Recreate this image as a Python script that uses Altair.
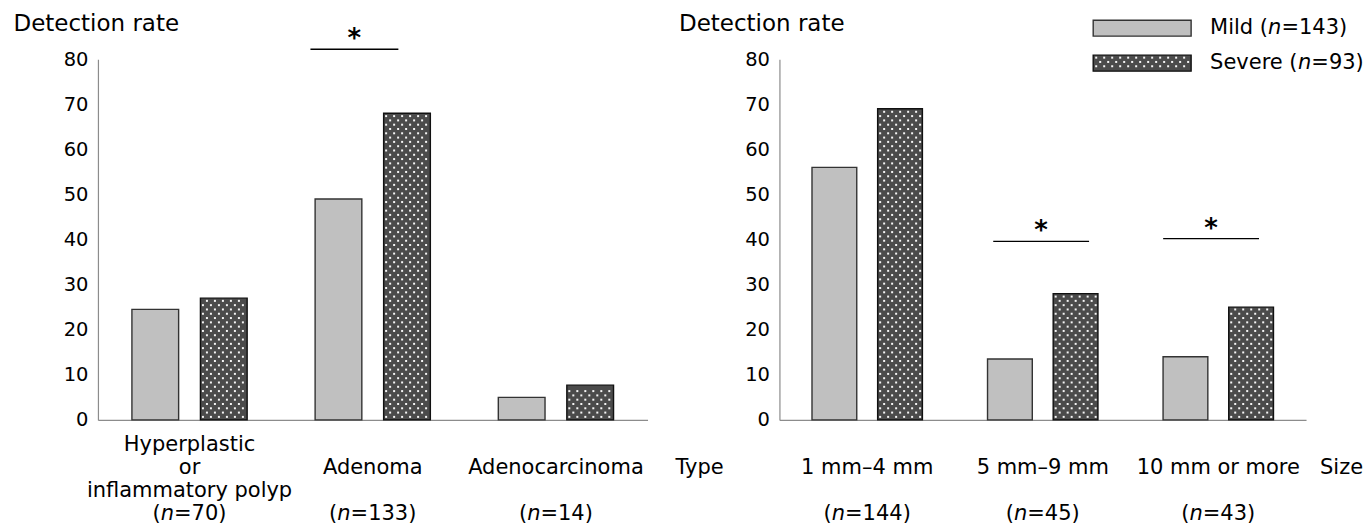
import altair as alt
import pandas as pd

FONT = "DejaVu Sans"
GRAY = "#8c8c8c"

# ---------------- data ----------------
type_categories = ["Hyperplastic\nor\ninflammatory polyp", "Adenoma", "Adenocarcinoma"]
type_n = ["70", "133", "14"]
type_mild = [24.5, 49, 5]
type_severe = [27, 68, 7.7]

size_categories = ["1 mm–4 mm", "5 mm–9 mm", "10 mm or more"]
size_n = ["144", "45", "43"]
size_mild = [56, 13.5, 14]
size_severe = [69, 28, 25]

# significance brackets: (x start, x end, y) in group / rate units
type_sig = [(1.16, 1.64, 82.2)]
size_sig = [(1.218, 1.764, 39.6), (2.186, 2.732, 40.2)]

groups = ["Mild", "Severe"]
legend_prefix = ["Mild (", "Severe ("]
legend_n = ["143", "93"]

# ---------------- style ----------------
H = 361
BW = 0.255   # bar width in group units
OFF = 0.187  # bar centre offset from group centre
LAB_FS = 21
TICK_FS = 19.5
TITLE_FS = 23
LEG_FS = 21
LINE_H = 23
ROW1 = 48    # px below axis of the category label centre
ROWN = 94    # px below axis of the (n=..) row
FILL = {"Mild": "#c0c0c0", "Severe": "#4b4b4b"}
STROKE = {"Mild": "#333333", "Severe": "#111111"}

# DejaVu Sans advance widths (em)
ADV = {" ": 0.318, "(": 0.390, ")": 0.390, "=": 0.838, "n": 0.634, "M": 0.863,
       "i": 0.278, "l": 0.278, "d": 0.635, "S": 0.635, "e": 0.615, "v": 0.592,
       "r": 0.411}
for _d in "0123456789":
    ADV[_d] = 0.636


def tw(s, fs):
    return sum(ADV.get(c, 0.6) for c in s) * fs


def panel(cats, ns, mild, severe, sig, width, title_x, end_label, end_dx, legend):
    ppg = width / 3.0          # pixels per group unit
    ppu = H / 80.0             # pixels per rate unit

    def fx(px):
        return px / ppg

    def fy(py):  # pixel offset from plot top -> rate units
        return 80 - py / ppu

    def below(py):  # pixel offset below the x axis -> rate units
        return -py / ppu

    xs = alt.Scale(domain=[0, 3], nice=False, zero=False)
    ys = alt.Scale(domain=[0, 80], nice=False)

    rows = []
    for i in range(3):
        for g, v, sgn in (("Mild", mild[i], -1), ("Severe", severe[i], 1)):
            c = i + 0.5 + sgn * OFF
            rows.append(dict(grp=g, x0=c - BW / 2, x1=c + BW / 2, v=v))
    bdf = pd.DataFrame(rows)

    fill_scale = alt.Scale(domain=groups, range=[FILL[g] for g in groups])
    stroke_scale = alt.Scale(domain=groups, range=[STROKE[g] for g in groups])

    bars = alt.Chart(bdf).mark_rect(strokeWidth=1.4).encode(
        x=alt.X("x0:Q", scale=xs, axis=alt.Axis(labels=False, ticks=False, grid=False,
                                                title=None, domainColor=GRAY, domainWidth=1.2)),
        x2="x1:Q",
        y=alt.Y("v:Q", scale=ys, axis=alt.Axis(
            title="Detection rate", titleAngle=0, titleAlign="left", titleBaseline="alphabetic",
            titleX=title_x, titleY=-29, titleFont=FONT, titleFontSize=TITLE_FS,
            titleFontWeight="normal", titleColor="black", labelFont=FONT,
            labelFontSize=TICK_FS, labelColor="black", labelPadding=10, ticks=False,
            tickSize=0, grid=False, domainColor=GRAY, domainWidth=1.2,
            values=list(range(0, 81, 10)))),
        y2=alt.datum(0),
        fill=alt.Fill("grp:N", scale=fill_scale, legend=None),
        stroke=alt.Stroke("grp:N", scale=stroke_scale, legend=None),
    )

    # dotted texture on the severe bars
    dx_u = 8.0 / ppg
    dy_u = 4.3 / ppu
    dots = []
    for i, s in enumerate(severe):
        left = i + 0.5 + OFF - BW / 2
        right = i + 0.5 + OFF + BW / 2
        y = dy_u * 0.7
        r = 0
        while y < s - 0.4 * dy_u:
            x = left + fx(2.5) + (dx_u / 2 if r % 2 else 0)
            while x < right - fx(2):
                dots.append(dict(x=x, y=y))
                x += dx_u
            y += dy_u
            r += 1
    ddf = pd.DataFrame(dots)
    dot_layer = alt.Chart(ddf).mark_square(size=4, color="white", opacity=0.95).encode(
        x=alt.X("x:Q", scale=xs), y=alt.Y("y:Q", scale=ys))

    # category labels (multi-line blocks centred on the label row)
    ldf = pd.DataFrame({
        "x": [i + 0.5 for i in range(3)],
        "label": cats,
        "y": [below(ROW1 - (c.count("\n")) * LINE_H / 2) for c in cats],
    })
    cat_text = alt.Chart(ldf).mark_text(font=FONT, fontSize=LAB_FS, baseline="middle",
                                        lineBreak="\n", lineHeight=LINE_H,
                                        color="black").encode(
        x=alt.X("x:Q", scale=xs), y=alt.Y("y:Q", scale=ys), text="label:N")

    # (n=..) row with italic n
    nrows = []
    for i, n in enumerate(ns):
        rest = "=" + n + ")"
        total = tw("(", LAB_FS) + tw("n", LAB_FS) + tw(rest, LAB_FS)
        start = -total / 2
        nrows.append(dict(xp=i + 0.5 + fx(start),
                          xn=i + 0.5 + fx(start + tw("(", LAB_FS)),
                          xr=i + 0.5 + fx(start + tw("(", LAB_FS) + tw("n", LAB_FS)),
                          rest=rest))
    ndf = pd.DataFrame(nrows)
    nbase = alt.Chart(ndf)
    n_p = nbase.mark_text(font=FONT, fontSize=LAB_FS, align="left", baseline="middle",
                          dy=ROWN, color="black").encode(
        x=alt.X("xp:Q", scale=xs), y=alt.datum(0), text=alt.value("("))
    n_n = nbase.mark_text(font=FONT, fontSize=LAB_FS, fontStyle="italic", align="left",
                          baseline="middle", dy=ROWN, color="black").encode(
        x=alt.X("xn:Q", scale=xs), y=alt.datum(0), text=alt.value("n"))
    n_r = nbase.mark_text(font=FONT, fontSize=LAB_FS, align="left", baseline="middle",
                          dy=ROWN, color="black").encode(
        x=alt.X("xr:Q", scale=xs), y=alt.datum(0), text="rest:N")

    # end-of-axis label (Type / Size)
    edf = pd.DataFrame({"x": [3 + fx(end_dx)], "t": [end_label]})
    end_text = alt.Chart(edf).mark_text(font=FONT, fontSize=LAB_FS, align="left",
                                        baseline="middle", dy=ROW1, color="black").encode(
        x=alt.X("x:Q", scale=xs), y=alt.datum(0), text="t:N")

    # significance brackets
    sdf = pd.DataFrame([dict(x0=a, x1=b, y=c, xm=(a + b) / 2) for a, b, c in sig])
    sig_rule = alt.Chart(sdf).mark_rule(color="black", strokeWidth=1.3).encode(
        x=alt.X("x0:Q", scale=xs), x2="x1:Q", y=alt.Y("y:Q", scale=ys))
    sig_star = alt.Chart(sdf).mark_text(font=FONT, fontSize=26, fontWeight="bold",
                                        baseline="alphabetic", dy=-2,
                                        color="black").encode(
        x=alt.X("xm:Q", scale=xs), y=alt.Y("y:Q", scale=ys), text=alt.value("*"))

    layers = [bars, dot_layer, cat_text, n_p, n_n, n_r, end_text, sig_rule, sig_star]

    if legend:
        # legend patches (positions given in pixels from plot origin)
        lx0, lx1 = 314, 412
        tops = [-39, -4]
        rdf = pd.DataFrame([dict(grp=g, x0=fx(lx0), x1=fx(lx1), y0=fy(t), y1=fy(t + 16))
                            for g, t in zip(groups, tops)])
        leg_rect = alt.Chart(rdf).mark_rect(strokeWidth=1.4).encode(
            x=alt.X("x0:Q", scale=xs), x2="x1:Q",
            y=alt.Y("y0:Q", scale=ys), y2="y1:Q",
            fill=alt.Fill("grp:N", scale=fill_scale, legend=None),
            stroke=alt.Stroke("grp:N", scale=stroke_scale, legend=None))
        ldots = []
        t = tops[1]
        r = 0
        py = t + 2.5
        while py < t + 15:
            px = lx0 + 3 + (4 if r % 2 else 0)
            while px < lx1 - 2:
                ldots.append(dict(x=fx(px), y=fy(py)))
                px += 8
            py += 4.3
            r += 1
        ldot_layer = alt.Chart(pd.DataFrame(ldots)).mark_square(
            size=4, color="white", opacity=0.95).encode(
            x=alt.X("x:Q", scale=xs), y=alt.Y("y:Q", scale=ys))
        tx = 431
        trows = []
        for g, pre, n, t in zip(groups, legend_prefix, legend_n, tops):
            trows.append(dict(xp=fx(tx), xn=fx(tx + tw(pre, LEG_FS)),
                              xr=fx(tx + tw(pre, LEG_FS) + tw("n", LEG_FS)),
                              y=fy(t + 8), pre=pre, rest="=" + n + ")"))
        tdf = pd.DataFrame(trows)
        tb = alt.Chart(tdf)
        lt1 = tb.mark_text(font=FONT, fontSize=LEG_FS, align="left", baseline="middle",
                           color="black").encode(
            x=alt.X("xp:Q", scale=xs), y=alt.Y("y:Q", scale=ys), text="pre:N")
        lt2 = tb.mark_text(font=FONT, fontSize=LEG_FS, align="left", baseline="middle",
                           fontStyle="italic", color="black").encode(
            x=alt.X("xn:Q", scale=xs), y=alt.Y("y:Q", scale=ys), text=alt.value("n"))
        lt3 = tb.mark_text(font=FONT, fontSize=LEG_FS, align="left", baseline="middle",
                           color="black").encode(
            x=alt.X("xr:Q", scale=xs), y=alt.Y("y:Q", scale=ys), text="rest:N")
        layers += [leg_rect, ldot_layer, lt1, lt2, lt3]

    return alt.layer(*layers).properties(width=width, height=H)


left = panel(type_categories, type_n, type_mild, type_severe, type_sig, 550, -85,
             "Type", 28, False)
right = panel(size_categories, size_n, size_mild, size_severe, size_sig, 527, -101,
              "Size", 14, True)

chart = alt.hconcat(left, right, spacing=132, bounds="flush").properties(
    padding={"left": 5, "top": 4, "right": 0, "bottom": 5}
).configure_view(stroke=None)

chart.save("out.html", embed_options={"renderer": "svg", "actions": False})
